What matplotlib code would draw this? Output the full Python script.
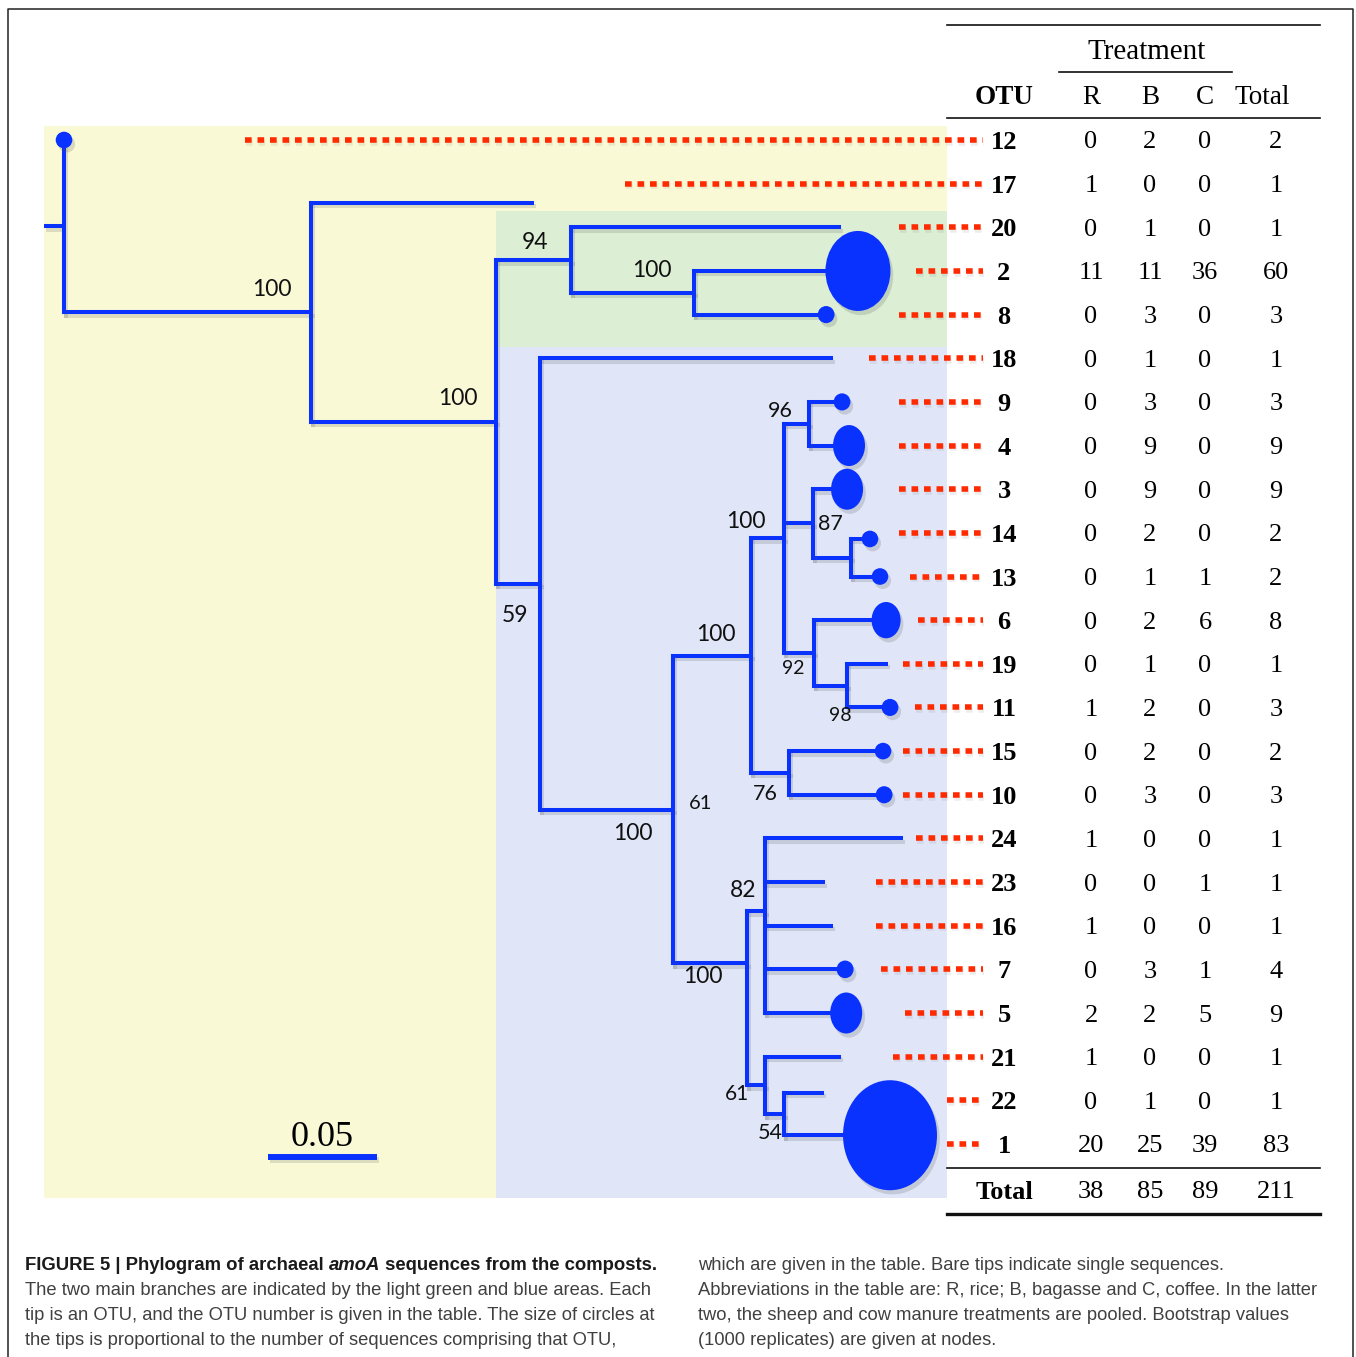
import numpy as np
import matplotlib
matplotlib.use('Agg')
import matplotlib.pyplot as plt
import matplotlib.patches as patches
import matplotlib.patheffects as pe
import matplotlib.transforms as mtransforms
from matplotlib.lines import Line2D

# OTU table, rows listed in the order of the tree tips
otus = ['12', '17', '20', '2', '8', '18', '9', '4', '3', '14', '13', '6',
        '19', '11', '15', '10', '24', '23', '16', '7', '5', '21', '22', '1']
rice = [0, 1, 0, 11, 0, 0, 0, 0, 0, 0, 0, 0, 0, 1, 0, 0, 1, 0, 1, 0, 2, 1, 0, 20]
bagasse = [2, 0, 1, 11, 3, 1, 3, 9, 9, 2, 1, 2, 1, 2, 2, 3, 0, 0, 0, 3, 2, 0, 1, 25]
coffee = [0, 0, 0, 36, 0, 0, 0, 0, 0, 0, 1, 6, 0, 0, 0, 0, 0, 1, 0, 1, 5, 0, 0, 39]
totals = [2, 1, 1, 60, 3, 1, 3, 9, 9, 2, 2, 8, 1, 3, 2, 3, 1, 1, 1, 4, 9, 1, 1, 83]
column_totals = [38, 85, 89, 211]

# phylogram: (node, branch length in substitutions/site, children); tips are OTUs
tree = ('root', 0.0, [
    ('12', 0.0),
    ('A', 0.1133, [
        ('17', 0.1014),
        ('B', 0.0849, [
            ('C', 0.0344, [
                ('20', 0.1229),
                ('E', 0.0564, [('2', 0.0752), ('8', 0.0606)]),
            ]),
            ('D', 0.0202, [
                ('18', 0.1335),
                ('F', 0.0610, [
                    ('G', 0.0358, [
                        ('I', 0.0151, [
                            ('K', 0.0115, [('9', 0.0151), ('4', 0.0183)]),
                            ('L', 0.0133, [('3', 0.0156),
                                           ('L2', 0.0174, [('14', 0.0087), ('13', 0.0133)])]),
                            ('M', 0.0138, [('6', 0.0330),
                                           ('N', 0.0151, [('19', 0.0179), ('11', 0.0197)])]),
                        ]),
                        ('J', 0.0174, [('15', 0.0431), ('10', 0.0436)]),
                    ]),
                    ('H', 0.0339, [
                        ('P', 0.0083, [('24', 0.0624), ('23', 0.0266), ('16', 0.0303),
                                       ('7', 0.0367), ('5', 0.0372)]),
                        ('Q', 0.0083, [('21', 0.0339),
                                       ('R', 0.0087, [('22', 0.0174), ('1', 0.0486)])]),
                    ]),
                ]),
            ]),
        ]),
    ]),
])
root_stub = 0.0092

# bootstrap support (1000 replicates)
support = [('A', 100), ('B', 100), ('C', 94), ('E', 100), ('D', 59), ('F', 100),
           ('F', 61), ('G', 100), ('H', 100), ('I', 100), ('J', 76), ('K', 96),
           ('L', 87), ('M', 92), ('N', 98), ('P', 82), ('Q', 61), ('R', 54)]

# ---- layout -------------------------------------------------------------
W, H = 1356, 1357
unit_px = 2180.0      # pixels per substitution/site
row_px = 43.65        # pixels per table row
x0_px, y0_px = 64, 140

blue = '#0a32ff'
red = '#ff2a00'
serif = 'Liberation Serif'
sans = 'Liberation Sans'

# label offsets from node (pixels, right / down) and font sizes
support_off = [(-39, -23), (-38, -23), (-36, -18), (-42, -22), (-25, 32), (-40, 24),
               (27, -6), (-35, -21), (-44, 13), (-38, -17), (-24, 21), (-29, -13),
               (17, 1), (-21, 16), (-7, 30), (-22, -21), (-28, 9), (-14, 19)]
support_size = [16.5, 16.5, 16.5, 16.5, 16.5, 16.5, 14.5, 16.5, 16.5, 16.5, 15.5, 15.5,
                15.5, 14, 14, 16.5, 15, 15.5]
# vertical nudges (rows) for tips and a few internal nodes
y_shift = {'17': 0.44, '14': 0.14, '22': -0.17, '1': -0.2, 'P': -0.33, 'H': -0.8}
leader_start = [245, 625, 899, 916, 899, 869, 899, 899, 899, 899, 910, 918,
                903, 915, 903, 903, 916, 876, 876, 881, 905, 893, 947, 947]
# circle radii (px) keyed on number of sequences
key_n = [2, 4, 9, 60, 83]
key_rx = [8.3, 8.5, 16, 32.5, 47]
key_ry = [8.3, 8.8, 20.5, 40, 55]

fig = plt.figure(figsize=(W / 100, H / 100), dpi=100)
ax = fig.add_axes([0, 0, 1, 1])
ax.axis('off')
ax.set_xlim(-x0_px / unit_px, (W - x0_px) / unit_px)
ax.set_ylim((H - y0_px) / row_px, -y0_px / row_px)

page = mtransforms.Affine2D().scale(1.0 / W, -1.0 / H).translate(0, 1) + fig.transFigure
rows = mtransforms.blended_transform_factory(page, ax.transData)


def xdat(xpx):
    return (xpx - x0_px) / unit_px


def yrow(ypx):
    return (ypx - y0_px) / row_px


# ---- tree geometry ------------------------------------------------------
pos = {}
hsegs, vsegs = [], []


def place(node, parent_x):
    name, length = node[0], node[1]
    x = parent_x + length
    if len(node) == 2:
        y = otus.index(name) + y_shift.get(name, 0.0)
    else:
        ys = [place(ch, x) for ch in node[2]]
        y = 0.5 * (min(ys) + max(ys)) + y_shift.get(name, 0.0)
        vsegs.append((x, min(ys), max(ys)))
    pos[name] = (x, y)
    if length > 0:
        hsegs.append((parent_x, x, y))
    return y


place(tree, 0.0)

# shaded areas
panel_right = xdat(947)
bx = pos['B'][0]
ax.add_patch(patches.Rectangle((xdat(44), yrow(126)), panel_right - xdat(44),
                               yrow(1198) - yrow(126), color='#f9f9d6', lw=0, zorder=0))
ax.add_patch(patches.Rectangle((bx, yrow(211)), panel_right - bx, yrow(347) - yrow(211),
                               color='#dcefd4', lw=0, zorder=0.1))
ax.add_patch(patches.Rectangle((bx, yrow(347)), panel_right - bx, yrow(1198) - yrow(347),
                               color='#e0e6f8', lw=0, zorder=0.1))

shadow = [pe.SimpleLineShadow(offset=(1.5, -2.5), shadow_color='#555', alpha=0.18), pe.Normal()]
dot_shadow = [pe.SimpleLineShadow(offset=(0.8, -2), shadow_color='#555', alpha=0.1), pe.Normal()]

# dotted leaders from tips to the table
for i, name in enumerate(otus):
    ax.plot([leader_start[i], 983], [i, i], transform=rows, color=red, lw=4.0,
            dashes=(1.2, 1.05), dash_capstyle='butt', zorder=2, path_effects=dot_shadow)

# branches
lw = 2.9
ry_root = pos['root'][1]
ax.plot([-root_stub, 0], [ry_root, ry_root], color=blue, lw=lw,
        solid_capstyle='butt', zorder=3, path_effects=shadow)
for x1, x2, y in hsegs:
    ax.plot([x1, x2], [y, y], color=blue, lw=lw, solid_capstyle='projecting',
            zorder=3, path_effects=shadow)
for x, y1, y2 in vsegs:
    ax.plot([x, x], [y1, y2], color=blue, lw=lw, solid_capstyle='projecting',
            zorder=3, path_effects=shadow)

# tip circles sized by number of sequences
for name, n in zip(otus, totals):
    if n < 2:
        continue
    x, y = pos[name]
    rx = np.interp(n, key_n, key_rx)
    ry = np.interp(n, key_n, key_ry)
    e = patches.Ellipse((x, y), 2 * rx / unit_px, 2 * ry / row_px, color=blue, lw=0,
                        zorder=4)
    e.set_path_effects([pe.SimplePatchShadow(offset=(2, -3), shadow_rgbFace='#555',
                                             alpha=0.2), pe.Normal()])
    ax.add_patch(e)

# bootstrap values
for (node, val), (dx, dy), fs in zip(support, support_off, support_size):
    ax.annotate(str(val), pos[node], xytext=(dx, -dy), textcoords='offset pixels',
                ha='center', va='center', fontsize=fs, family='Lato', color='#111111',
                zorder=5)

# scale bar
sb_x = xdat(268)
ax.plot([sb_x, sb_x + 0.05], [yrow(1157)] * 2, color=blue, lw=4.3, solid_capstyle='butt',
        zorder=3, path_effects=shadow)
ax.text(sb_x + 0.025, yrow(1133), '0.05', ha='center', va='center_baseline', fontsize=26,
        family=serif)

# ---- table --------------------------------------------------------------
col_x = [1091, 1150, 1205, 1276]
fs_tab = 19
for i, name in enumerate(otus):
    ax.text(1004, i, name, transform=rows, ha='center', va='center_baseline',
            fontsize=fs_tab, family=serif, fontweight='bold')
    for cx, v in zip(col_x, (rice[i], bagasse[i], coffee[i], totals[i])):
        ax.text(cx, i, str(v), transform=rows, ha='center', va='center_baseline',
                fontsize=fs_tab, family=serif)

ax.text(1147, 49, 'Treatment', transform=page, ha='center', va='center_baseline',
        fontsize=21, family=serif)
ax.text(1004, 95, 'OTU', transform=page, ha='center', va='center_baseline',
        fontsize=19.5, family=serif, fontweight='bold')
for cx, lab in zip([1091, 1150, 1205, 1262], ['R', 'B', 'C', 'Total']):
    ax.text(cx, 95, lab, transform=page, ha='center', va='center_baseline',
            fontsize=19.5, family=serif)
ax.text(1004, 1190, 'Total', transform=page, ha='center', va='center_baseline',
        fontsize=fs_tab, family=serif, fontweight='bold')
for cx, v in zip(col_x, column_totals):
    ax.text(cx, 1190, str(v), transform=page, ha='center', va='center_baseline',
            fontsize=fs_tab, family=serif)

for xa, xb, y, w in [(947, 1320, 25, 1.2), (1059, 1232, 72, 1.2), (947, 1320, 118, 1.2),
                     (947, 1320, 1168, 1.2), (947, 1320, 1214, 2.4)]:
    fig.add_artist(Line2D([xa, xb], [y, y], transform=page, color='#111111', lw=w))

# ---- caption ------------------------------------------------------------
renderer = fig.canvas.get_renderer()
cap_col = '#404040'


def runs(parts, x, y, size):
    out = []
    for txt, kw in parts:
        t = fig.text(x, y, txt, transform=page, fontsize=size, family=sans,
                     va='baseline', ha='left', **kw)
        out.append(t)
        x += t.get_window_extent(renderer).width
    return out, x


left_lines = ['The two main branches are indicated by the light green and blue areas. Each',
              'tip is an OTU, and the OTU number is given in the table. The size of circles at',
              'the tips is proportional to the number of sequences comprising that OTU,']
right_lines = ['which are given in the table. Bare tips indicate single sequences.',
               'Abbreviations in the table are: R, rice; B, bagasse and C, coffee. In the latter',
               'two, the sheep and cow manure treatments are pooled. Bootstrap values',
               '(1000 replicates) are given at nodes.']

probe = fig.text(0, 0, left_lines[0], fontsize=12, family=sans)
fs_cap = 12 * 630 / probe.get_window_extent(renderer).width
probe.remove()

bold = dict(fontweight='bold', color='#1a1a1a')
title = [('FIGURE 5 | Phylogram of archaeal ', bold),
         ('amoA', dict(fontweight='bold', style='italic', color='#1a1a1a')),
         (' sequences from the composts.', bold)]
parts, xend = runs(title, 25, 1270, 12)
fs_title = 12 * 632 / (xend - 25)
for t in parts:
    t.remove()
runs(title, 25, 1270, fs_title)

for k, line in enumerate(left_lines):
    fig.text(25, 1295 + 25 * k, line, transform=page, fontsize=fs_cap, family=sans,
             color=cap_col, va='baseline')
for k, line in enumerate(right_lines):
    fig.text(698, 1270 + 25 * k, line, transform=page, fontsize=fs_cap, family=sans,
             color=cap_col, va='baseline')

# page frame
fig.add_artist(Line2D([8, 8, 1353, 1353], [H, 8.5, 8.5, H], transform=page,
                      color='#222222', lw=1.1))

fig.savefig('out.png', dpi=100)
